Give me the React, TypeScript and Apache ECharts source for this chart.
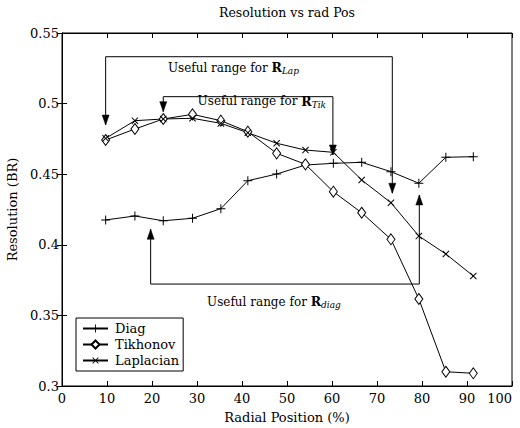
import React, { useEffect, useRef } from "react";
import * as echarts from "echarts";

const FONT = "DejaVu Serif";

const xPos = [9.7, 16.2, 22.5, 29.0, 35.3, 41.3, 47.7, 54.1, 60.3, 66.6, 73.1, 79.3, 85.3, 91.4];
const diag = [0.4176, 0.4204, 0.417, 0.4188, 0.4256, 0.4454, 0.4501, 0.4565, 0.4577, 0.4584, 0.4518, 0.4436, 0.462, 0.4624];
const tikhonov = [0.4742, 0.482, 0.4891, 0.4924, 0.4879, 0.4801, 0.4648, 0.457, 0.4376, 0.4227, 0.4039, 0.3616, 0.3101, 0.309];
const laplacian = [0.4754, 0.4879, 0.4891, 0.4896, 0.486, 0.4794, 0.4719, 0.4671, 0.4655, 0.4459, 0.4298, 0.4062, 0.3935, 0.3779];

const seriesNames = ["Diag", "Tikhonov", "Laplacian"];

// annotation brackets ("Useful range for R_...")
const bracketSub = ["Lap", "Tik", "diag"];
const bracketLeftX = [9.7, 22.5, 19.7];
const bracketRightX = [73.4, 60.2, 79.4];
const bracketLineY = [0.5332, 0.5049, 0.3722];
const bracketLeftTip = [0.4848, 0.4943, 0.411];
const bracketRightTip = [0.4365, 0.4636, 0.4353];
const labelX = [38.1, 44.4, 47.1];
const labelY = [0.5254, 0.5015, 0.3597];

const xTicks = { min: 0, max: 100, interval: 10 };
const yTicks = { min: 0.3, max: 0.55, interval: 0.05 };

const plusPath = "path://M4.45,0H5.55V4.45H10V5.55H5.55V10H4.45V5.55H0V4.45H4.45Z";

export default function App() {
  const ref = useRef<HTMLDivElement>(null);
  useEffect(() => {
    if (!ref.current) return;
    const chart = echarts.init(ref.current, undefined, { renderer: "svg" });
    const axisCommon = {
      axisLine: { show: true, lineStyle: { color: "#000", width: 1 } },
      axisTick: { show: true, inside: true, length: 5, lineStyle: { color: "#000", width: 1 } },
      splitLine: { show: false },
    };
    const labelStyle = { fontFamily: FONT, fontSize: 13, color: "#000" };
    const annData = bracketSub.map((_, i) => [
      bracketLeftX[i], bracketRightX[i], bracketLineY[i], bracketLeftTip[i], bracketRightTip[i], labelX[i], labelY[i],
    ]);
    const arrow = (tip: number[], lineY: number) => {
      const dir = tip[1] > lineY ? 1 : -1;
      return {
        type: "polygon",
        shape: { points: [[tip[0], tip[1]], [tip[0] - 3.5, tip[1] - dir * 10], [tip[0] + 3.5, tip[1] - dir * 10]] },
        style: { fill: "#000", stroke: "#000", lineWidth: 0.5 },
      };
    };
    chart.setOption({
      animation: false,
      backgroundColor: "#fff",
      title: {
        text: "Resolution vs rad Pos",
        left: 287,
        top: 6,
        padding: 0,
        textAlign: "center",
        textStyle: { fontFamily: FONT, fontSize: 12.5, fontWeight: "normal", color: "#000" },
      },
      grid: {
        left: 62,
        right: 8,
        top: 33,
        bottom: 42,
        containLabel: false,
        outerBoundsMode: "none",
        show: true,
        borderColor: "#000",
        borderWidth: 1,
      },
      legend: {
        data: seriesNames,
        orient: "vertical",
        left: 76,
        top: 318,
        itemWidth: 25,
        itemHeight: 10,
        itemGap: 3,
        padding: [4, 4, 4, 6],
        borderColor: "#000",
        borderWidth: 1,
        backgroundColor: "#fff",
        textStyle: { fontFamily: FONT, fontSize: 13, color: "#000", lineHeight: 13, padding: [0, 0, 0, 2] },
      },
      xAxis: [
        {
          type: "value",
          position: "bottom",
          ...xTicks,
          ...axisCommon,
          axisLabel: { ...labelStyle, margin: 6, alignMaxLabel: "right" },
          name: "Radial Position (%)",
          nameLocation: "middle",
          nameGap: 25,
          nameTextStyle: labelStyle,
        },
        { type: "value", position: "top", ...xTicks, ...axisCommon, axisLabel: { show: false } },
      ],
      yAxis: [
        {
          type: "value",
          position: "left",
          ...yTicks,
          ...axisCommon,
          axisLabel: { ...labelStyle, margin: 3 },
          name: "Resolution (BR)",
          nameLocation: "middle",
          nameGap: 35,
          nameTextStyle: labelStyle,
        },
        { type: "value", position: "right", ...yTicks, ...axisCommon, axisLabel: { show: false } },
      ],
      series: [
        {
          name: "Diag",
          type: "line",
          data: xPos.map((x, i) => [x, diag[i]]),
          symbol: plusPath,
          symbolSize: 9,
          lineStyle: { color: "#000", width: 1 },
          itemStyle: { color: "#000" },
        },
        {
          name: "Tikhonov",
          type: "line",
          data: xPos.map((x, i) => [x, tikhonov[i]]),
          symbol: "diamond",
          symbolSize: [8, 11],
          lineStyle: { color: "#000", width: 1 },
          itemStyle: { color: "#fff", borderColor: "#000", borderWidth: 1 },
        },
        {
          name: "Laplacian",
          type: "line",
          data: xPos.map((x, i) => [x, laplacian[i]]),
          symbol: plusPath,
          symbolRotate: 45,
          symbolSize: 9,
          lineStyle: { color: "#000", width: 1 },
          itemStyle: { color: "#000" },
        },
        {
          name: "annotations",
          type: "custom",
          silent: true,
          data: annData,
          encode: { x: [0, 1, 5], y: [2, 3, 4, 6] },
          renderItem: (params: any, api: any) => {
            const i = params.dataIndex;
            const yl = api.value(2);
            const pL = api.coord([api.value(0), yl]);
            const pR = api.coord([api.value(1), yl]);
            const a1 = api.coord([api.value(0), api.value(3)]);
            const a2 = api.coord([api.value(1), api.value(4)]);
            const lab = api.coord([api.value(5), api.value(6)]);
            return {
              type: "group",
              children: [
                {
                  type: "polyline",
                  shape: { points: [a1, pL, pR, a2] },
                  style: { stroke: "#000", lineWidth: 1, fill: "none" },
                },
                arrow(a1, pL[1]),
                arrow(a2, pR[1]),
                {
                  type: "text",
                  style: {
                    text: "Useful range for {b|R}{s|" + bracketSub[i] + "}",
                    x: lab[0],
                    y: lab[1],
                    align: "center",
                    verticalAlign: "middle",
                    fontFamily: FONT,
                    fontSize: 12,
                    lineHeight: 16,
                    fill: "#000",
                    rich: {
                      b: { fontFamily: FONT, fontSize: 12.5, fontWeight: "bold", lineHeight: 16 },
                      s: { fontFamily: FONT, fontSize: 9, fontStyle: "italic", lineHeight: 8, verticalAlign: "bottom" },
                    },
                  },
                },
              ],
            };
          },
        },
      ],
    });
    return () => chart.dispose();
  }, []);
  return <div ref={ref} style={{ width: 520, height: 428, position: "absolute", left: 0, top: 0 }} />;
}
